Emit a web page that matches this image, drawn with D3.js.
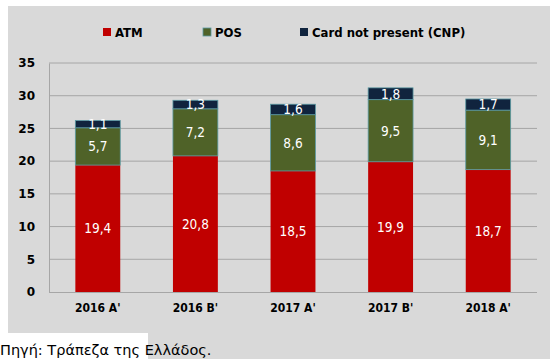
<!DOCTYPE html>
<html>
<head>
<meta charset="utf-8">
<script src="https://cdn.jsdelivr.net/npm/d3@7"></script>
<style>
  html, body { margin: 0; padding: 0; background: #ffffff; }
  svg { display: block; }
</style>
</head>
<body>
<svg id="chart" width="550" height="359"></svg>
<script>
// Card fraud by channel, semester figures
const periods = ["2016 A'", "2016 B'", "2017 A'", "2017 B'", "2018 A'"];
const seriesNames = ["ATM", "POS", "Card not present (CNP)"];
const atm = [19.4, 20.8, 18.5, 19.9, 18.7];
const pos = [5.7, 7.2, 8.6, 9.5, 9.1];
const cnp = [1.1, 1.3, 1.6, 1.8, 1.7];
const yTicks = [0, 5, 10, 15, 20, 25, 30, 35];
const colors = ["#c00000", "#4f6228", "#10243e"];
const sourceNote = "Πηγή: Τράπεζα της Ελλάδος.";

const svg = d3.select("#chart");
const W = 550, H = 359;

// panel background
svg.append("rect").attr("x", 8).attr("y", 6).attr("width", W - 8).attr("height", H - 6)
  .attr("fill", "#d9d9d9");
svg.append("rect").attr("x", 0).attr("y", 333).attr("width", 148).attr("height", H - 333)
  .attr("fill", "#ffffff");

const x = d3.scaleBand().domain(periods).range([49, 537]).paddingInner(0.54).paddingOuter(0.27);
const y = d3.scaleLinear().domain([0, 35]).range([292, 63]);

// gridlines
svg.append("g").selectAll("line").data(yTicks.filter(t => t > 0)).join("line")
  .attr("x1", 49).attr("x2", 537)
  .attr("y1", d => y(d)).attr("y2", d => y(d))
  .attr("stroke", "#a6a6a6").attr("stroke-width", 1);

// axes
const yAxis = svg.append("g").attr("transform", "translate(49,0)")
  .call(d3.axisLeft(y).tickValues(yTicks).tickSize(0).tickPadding(14));
yAxis.select(".domain").attr("stroke", "#a6a6a6");
yAxis.selectAll("text").attr("font-family", "DejaVu Sans, sans-serif")
  .attr("font-weight", "bold").attr("font-size", 12).attr("fill", "#000");

const xAxis = svg.append("g").attr("transform", "translate(0,292)")
  .call(d3.axisBottom(x).tickSize(0).tickPadding(11));
xAxis.select(".domain").attr("stroke", "#a6a6a6").attr("d", "M49,0.5H537");
xAxis.selectAll("text").attr("font-family", "DejaVu Sans Condensed, DejaVu Sans, sans-serif")
  .attr("font-weight", "bold").attr("font-size", 12).attr("fill", "#000");

// stacked bars
const table = periods.map((p, i) => ({ period: p, ATM: atm[i], POS: pos[i], "Card not present (CNP)": cnp[i] }));
const stacked = d3.stack().keys(seriesNames)(table);
const fmt = v => d3.format(".1f")(v).replace(".", ",");

stacked.forEach((layer, li) => {
  const g = svg.append("g");
  g.selectAll("rect").data(layer).join("rect")
    .attr("x", d => x(d.data.period))
    .attr("width", x.bandwidth())
    .attr("y", d => y(d[1]))
    .attr("height", d => y(d[0]) - y(d[1]))
    .attr("fill", colors[li])
    .attr("stroke", li === 0 ? "none" : "#5b9aa3")
    .attr("stroke-width", 0.8);
  g.selectAll("text").data(layer).join("text")
    .attr("x", d => x(d.data.period) + x.bandwidth() / 2)
    .attr("y", d => (y(d[0]) + y(d[1])) / 2)
    .attr("dy", "0.36em")
    .attr("text-anchor", "middle")
    .attr("font-family", "DejaVu Sans Condensed, DejaVu Sans, sans-serif")
    .attr("font-size", 13.5)
    .attr("fill", "#ffffff")
    .text(d => fmt(d[1] - d[0]));
});

// legend
const legendX = [103, 203, 300];
const lg = svg.append("g").selectAll("g").data(seriesNames).join("g")
  .attr("transform", (d, i) => `translate(${legendX[i]},28)`);
lg.append("rect").attr("width", 8).attr("height", 8)
  .attr("fill", (d, i) => colors[i])
  .attr("stroke", (d, i) => i === 1 ? "#5b9aa3" : "none").attr("stroke-width", 0.8);
lg.append("text").attr("x", 12).attr("y", 8.5)
  .attr("font-family", "DejaVu Sans Condensed, DejaVu Sans, sans-serif")
  .attr("font-weight", "bold").attr("font-size", 13).attr("fill", "#000")
  .text(d => d);

// source note
svg.append("text").attr("x", 0).attr("y", 355)
  .attr("font-family", "DejaVu Sans, sans-serif")
  .attr("font-size", 14.5).attr("fill", "#000")
  .text(sourceNote);
</script>
</body>
</html>
